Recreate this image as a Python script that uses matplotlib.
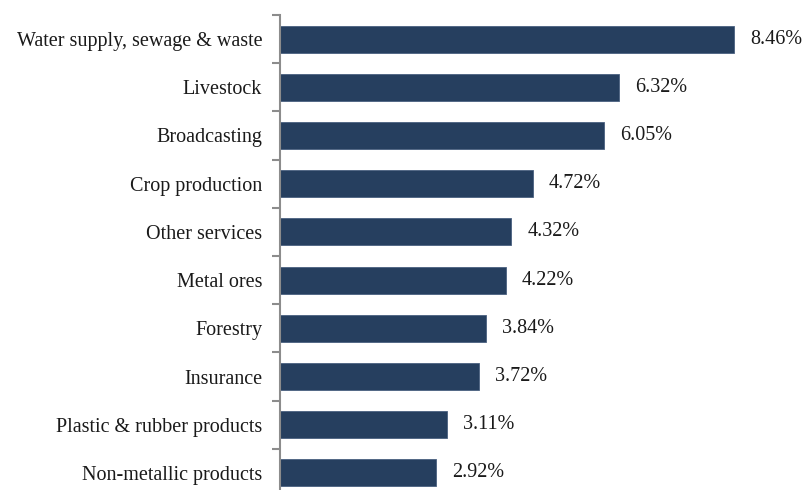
import matplotlib
matplotlib.use("Agg")
import matplotlib.pyplot as plt

categories = [
    "Water supply, sewage & waste",
    "Livestock",
    "Broadcasting",
    "Crop production",
    "Other services",
    "Metal ores",
    "Forestry",
    "Insurance",
    "Plastic & rubber products",
    "Non-metallic products",
]
values = [8.46, 6.32, 6.05, 4.72, 4.32, 4.22, 3.84, 3.72, 3.11, 2.92]

plt.rcParams["font.family"] = ["Liberation Serif", "DejaVu Serif"]

fig = plt.figure(figsize=(8.06, 4.90), dpi=100)
ax = fig.add_axes([279.5 / 806, -7 / 490, (806 - 279.5) / 806, 482 / 490])

bar_color = "#263f5f"
n = len(categories)
positions = list(range(n))
ax.barh(positions, values, height=0.56, color=bar_color,
        edgecolor="#4a6080", linewidth=0.6)

ax.set_ylim(n - 0.5, -0.5)
ax.set_xlim(0, (806 - 279.5) / 53.7)

# category boundaries carry the tick marks; names sit at bar centres
ax.set_yticks([p - 0.5 for p in positions] + [n - 0.5])
ax.set_yticks(positions, minor=True)
ax.set_yticklabels([])
ax.set_yticklabels(categories, minor=True, fontsize=14.5, color="#1a1a1a")
ax.tick_params(axis="y", which="major", length=6, width=1.5, color="#8c8c8c")
ax.tick_params(axis="y", which="minor", length=0, pad=12.5)

ax.set_xticks([])
for side in ("top", "right", "bottom"):
    ax.spines[side].set_visible(False)
ax.spines["left"].set_color("#8c8c8c")
ax.spines["left"].set_linewidth(1.5)

for p, v in zip(positions, values):
    ax.annotate(f"{v:.2f}%", xy=(v, p), xytext=(16, 0),
                textcoords="offset pixels",
                va="center", ha="left", fontsize=14.5, color="#1a1a1a")

fig.savefig("out.png", dpi=100)
